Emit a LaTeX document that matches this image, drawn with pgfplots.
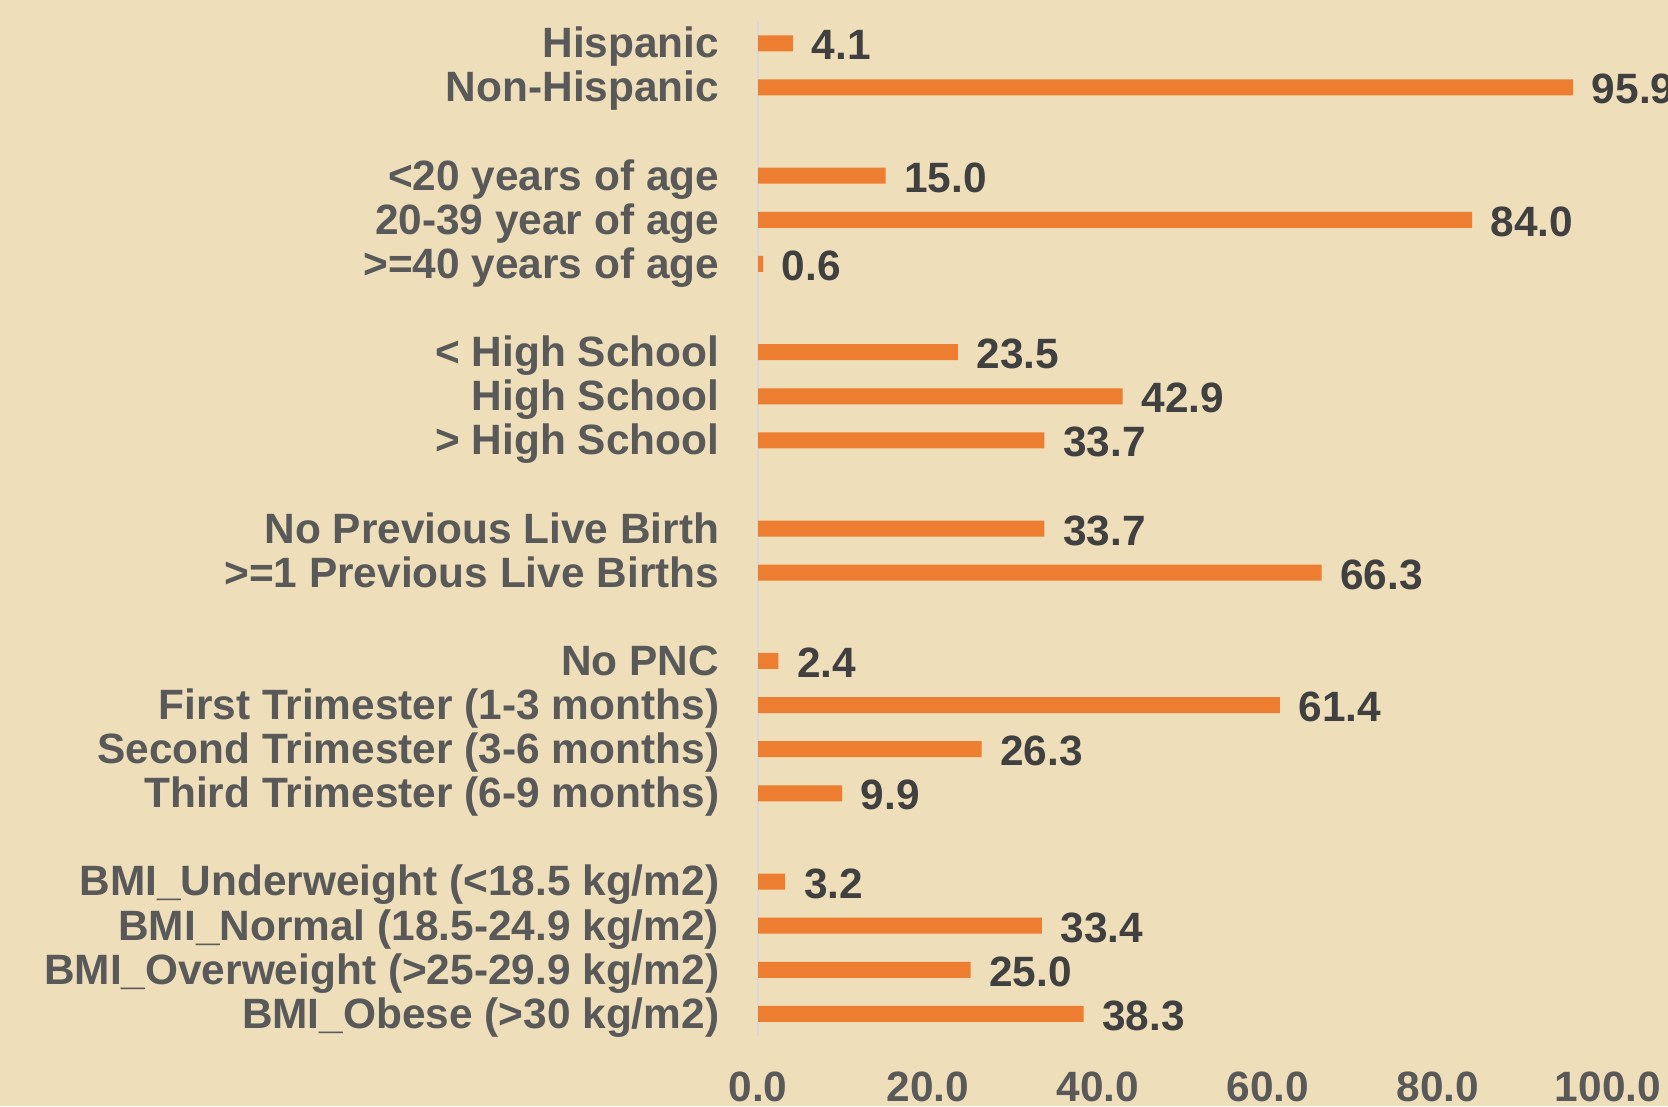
\documentclass[border=0pt]{standalone}
\usepackage{fontspec}
\setmainfont{Liberation Sans}
\usepackage{pgfplots}
\pgfplotsset{compat=1.18}
\definecolor{bg}{RGB}{238,223,186}
\definecolor{barc}{RGB}{237,125,49}
\definecolor{lab}{RGB}{89,89,89}
\definecolor{val}{RGB}{64,64,64}
\newcommand{\lf}{\fontsize{10.6}{12.7}\selectfont\bfseries}
\begin{document}
\begin{tikzpicture}
\path[use as bounding box, fill=bg] (0,0) rectangle (417pt,276.5pt);
\begin{axis}[
  at={(189.5pt,17.5pt)}, anchor=south west,
  scale only axis, width=212.5pt, height=253.7pt,
  xmin=0, xmax=100, ymin=-0.5, ymax=22.5, y dir=reverse,
  xbar, bar width=4pt,
  axis x line*=bottom,
  x axis line style={draw=none},
  axis y line*=left,
  y axis line style={draw=black!15, line width=0.6pt},
  xtick={0,20,40,60,80,100},
  ytick={0,1,3,4,5,7,8,9,11,12,14,15,16,17,19,20,21,22},
  yticklabels={Hispanic,Non-Hispanic,{<20 years of age},{20-39 year of age},{>=40 years of age},{< High School},{High School},{> High School},{No Previous Live Birth},{>=1 Previous Live Births},{No PNC},{First Trimester (1-3 months)},{Second Trimester (3-6 months)},{Third Trimester (6-9 months)},{BMI\_Underweight (<18.5 kg/m2)},{BMI\_Normal (18.5-24.9 kg/m2)},{BMI\_Overweight (>25-29.9 kg/m2)},{BMI\_Obese (>30 kg/m2)}},
  yticklabel style={anchor=base east, inner sep=0pt, xshift=-9.5pt, yshift=-3.6pt, font=\lf, text=lab},
  xticklabel style={anchor=center, yshift=-12.75pt, inner sep=0pt, font=\lf, text=lab, /pgf/number format/.cd, fixed, fixed zerofill, precision=1},
  major tick length=0pt,
  /pgf/number format/assume math mode=true,
  nodes near coords,
  nodes near coords style={anchor=west, inner sep=0pt, xshift=4.5pt, yshift=-0.5pt, font=\lf, text=val, /pgf/number format/.cd, fixed, fixed zerofill, precision=1},
  clip=false,
]
\addplot[fill=barc, draw=none] coordinates {
(4.1,0) (95.9,1) (15.0,3) (84.0,4) (0.6,5) (23.5,7) (42.9,8) (33.7,9) (33.7,11) (66.3,12) (2.4,14) (61.4,15) (26.3,16) (9.9,17) (3.2,19) (33.4,20) (25.0,21) (38.3,22)
};
\end{axis}
\end{tikzpicture}
\end{document}
